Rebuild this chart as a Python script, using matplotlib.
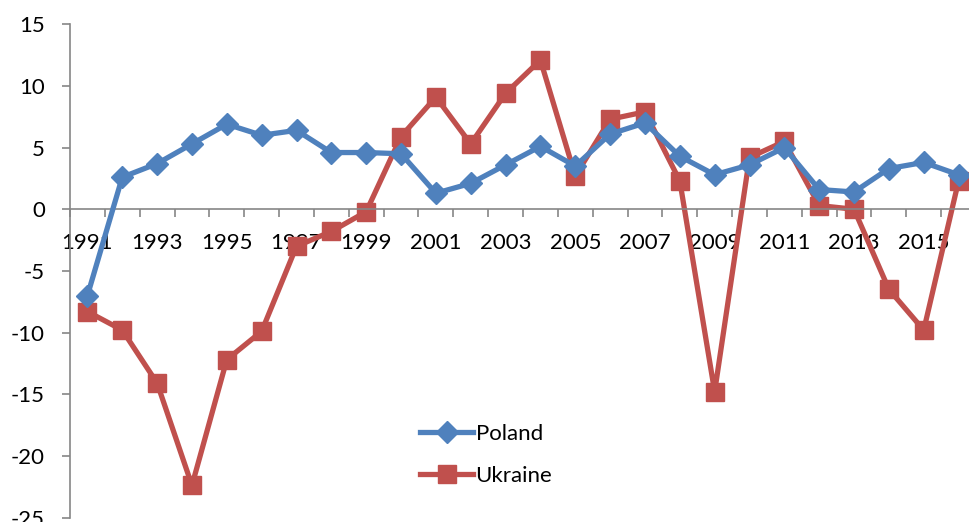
import numpy as np
import matplotlib.pyplot as plt
from matplotlib.ticker import FixedLocator

years = list(range(1991, 2017))
poland = [-7.0, 2.6, 3.7, 5.3, 6.9, 6.0, 6.4, 4.6, 4.6, 4.5, 1.3, 2.1, 3.6,
          5.1, 3.5, 6.1, 7.0, 4.3, 2.8, 3.6, 5.0, 1.6, 1.4, 3.3, 3.8, 2.8]
ukraine = [-8.3, -9.8, -14.1, -22.4, -12.2, -9.9, -3.0, -1.8, -0.2, 5.9, 9.1,
           5.3, 9.4, 12.1, 2.7, 7.3, 7.9, 2.3, -14.8, 4.2, 5.5, 0.3, 0.0, -6.5,
           -9.8, 2.3]
yticks = [-25, -20, -15, -10, -5, 0, 5, 10, 15]

blue = '#4F81BD'
red = '#C0504D'
axis_grey = '#868686'

plt.rcParams['font.family'] = ['Lato', 'DejaVu Sans']
plt.rcParams['axes.unicode_minus'] = False

fig = plt.figure(figsize=(9.69, 5.22), dpi=100)
ax = fig.add_axes([70 / 969, 1 - 517.5 / 522, 906 / 969, (517.5 - 24.3) / 522])

x = np.arange(len(years))
ax.plot(x, poland, color=blue, lw=3.8, marker='D', ms=11, label='Poland',
        solid_joinstyle='round', zorder=3)
ax.plot(x, ukraine, color=red, lw=3.8, marker='s', ms=12.5, label='Ukraine',
        solid_joinstyle='round', zorder=2)

ax.set_xlim(-0.5, len(years) - 0.5)
ax.set_ylim(-25, 15)
ax.set_yticks(yticks)
ax.tick_params(axis='y', length=6, width=1.2, color=axis_grey, pad=12,
               labelsize=16)

# category axis sits on zero, ticks between categories
ax.spines['bottom'].set_position(('data', 0))
ax.set_xticks(x[::2])
ax.set_xticklabels([str(y) for y in years[::2]])
ax.xaxis.set_minor_locator(FixedLocator(np.arange(-0.5, len(years), 1)))
ax.tick_params(axis='x', which='major', length=0, pad=17, labelsize=16)
ax.tick_params(axis='x', which='minor', length=6, width=1.2, color=axis_grey)

for side in ('top', 'right'):
    ax.spines[side].set_visible(False)
for side in ('left', 'bottom'):
    ax.spines[side].set_color(axis_grey)
    ax.spines[side].set_linewidth(1.2)

fig.legend(loc='upper left', bbox_to_anchor=(420 / 969, 1 - 424 / 522),
           frameon=False, fontsize=16, handlelength=2.4, handletextpad=0.1,
           labelspacing=1.0, borderpad=0, borderaxespad=0)

fig.savefig('out.png', dpi=100)
